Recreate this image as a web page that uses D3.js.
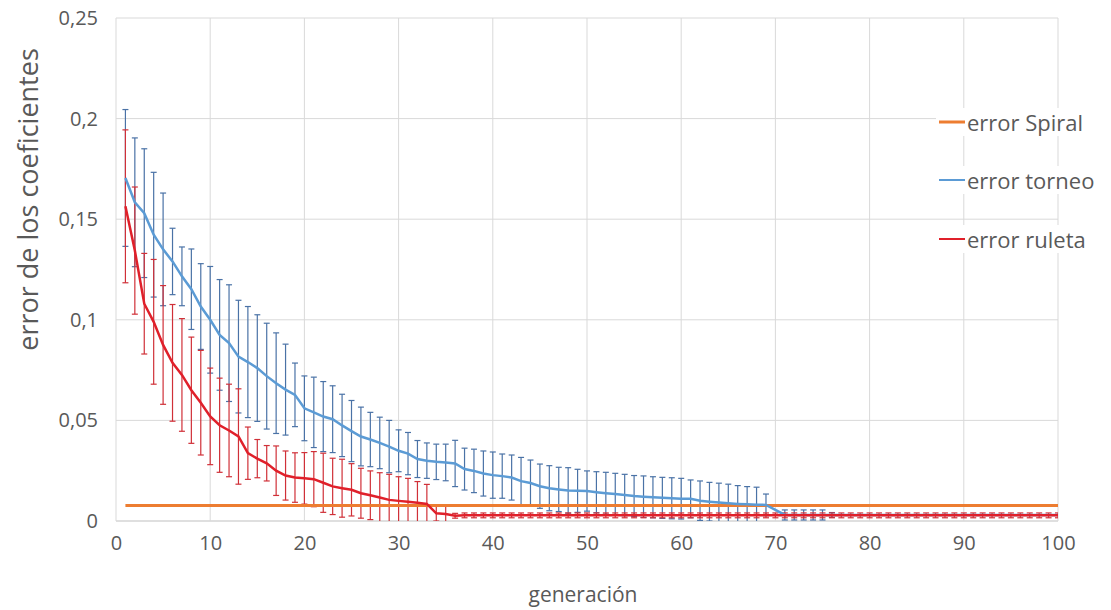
<!DOCTYPE html>
<html>
<head>
<meta charset="utf-8">
<script src="https://cdn.jsdelivr.net/npm/d3@7"></script>
<style>
  body { margin: 0; background: #fff; }
  text { font-family: "Open Sans", sans-serif; fill: #595959; }
</style>
</head>
<body>
<div id="chart"></div>
<script>
const xTicks = [0, 10, 20, 30, 40, 50, 60, 70, 80, 90, 100];
const yTicks = [0, 0.05, 0.1, 0.15, 0.2, 0.25];

// generación 1..100
const torneoMean = [
  0.1705, 0.1584, 0.153, 0.1423, 0.135, 0.129, 0.1216, 0.1152, 0.1066, 0.100,
  0.0925, 0.0884, 0.0817, 0.079, 0.076, 0.072, 0.0685, 0.0653, 0.0627, 0.056,
  0.054, 0.0519, 0.0506, 0.0475, 0.0447, 0.042, 0.0405, 0.0388, 0.037, 0.0349,
  0.0335, 0.0308, 0.030, 0.0294, 0.0291, 0.0286, 0.0258, 0.0249, 0.0236, 0.0228,
  0.0223, 0.0216, 0.0198, 0.0189, 0.0173, 0.0163, 0.0157, 0.0152, 0.015, 0.0149,
  0.0143, 0.0138, 0.0134, 0.0129, 0.0124, 0.0121, 0.0118, 0.0115, 0.0113, 0.0111,
  0.011, 0.0101, 0.0096, 0.0092, 0.0088, 0.0085, 0.0083, 0.0081, 0.008, 0.0055,
  0.003, 0.003, 0.003, 0.003, 0.003, 0.003, 0.003, 0.003, 0.003, 0.003,
  0.003, 0.003, 0.003, 0.003, 0.003, 0.003, 0.003, 0.003, 0.003, 0.003,
  0.003, 0.003, 0.003, 0.003, 0.003, 0.003, 0.003, 0.003, 0.003, 0.003
];
const torneoErr = [
  0.034, 0.032, 0.032, 0.031, 0.028, 0.0165, 0.0146, 0.020, 0.0213, 0.0265,
  0.0275, 0.029, 0.028, 0.0276, 0.0265, 0.0263, 0.025, 0.0226, 0.0158, 0.0161,
  0.0175, 0.0174, 0.0166, 0.0155, 0.0152, 0.0146, 0.0135, 0.0128, 0.013, 0.0104,
  0.0105, 0.0092, 0.0088, 0.0088, 0.0091, 0.0115, 0.0104, 0.0108, 0.0112, 0.0115,
  0.011, 0.0112, 0.0118, 0.0114, 0.011, 0.0112, 0.011, 0.0113, 0.0107, 0.010,
  0.0102, 0.0104, 0.0103, 0.0103, 0.0102, 0.0103, 0.0102, 0.0102, 0.0102, 0.0101,
  0.0094, 0.0098, 0.0096, 0.0096, 0.0095, 0.0091, 0.0088, 0.0087, 0.0054, 0,
  0.0025, 0.0025, 0.0025, 0.0025, 0.0025, 0.0012, 0, 0, 0, 0,
  0, 0, 0, 0, 0, 0, 0, 0, 0, 0,
  0, 0, 0, 0, 0, 0, 0, 0, 0, 0
];
const ruletaMean = [
  0.1564, 0.1344, 0.108, 0.099, 0.0875, 0.0786, 0.0726, 0.065, 0.0588, 0.052,
  0.0476, 0.045, 0.042, 0.0337, 0.031, 0.0287, 0.025, 0.0226, 0.0216, 0.0212,
  0.0208, 0.019, 0.0172, 0.0163, 0.0155, 0.0138, 0.0128, 0.0117, 0.0105, 0.010,
  0.0096, 0.0091, 0.0085, 0.0038, 0.0035, 0.0026, 0.0028, 0.0028, 0.0028, 0.0028,
  0.0028, 0.0028, 0.0028, 0.0028, 0.0028, 0.0028, 0.0028, 0.0028, 0.0028, 0.0028,
  0.0028, 0.0028, 0.0028, 0.0028, 0.0028, 0.0028, 0.0028, 0.0028, 0.0028, 0.0028,
  0.0028, 0.0028, 0.0028, 0.0028, 0.0028, 0.0028, 0.0028, 0.0028, 0.0028, 0.0028,
  0.0028, 0.0028, 0.0028, 0.0028, 0.0028, 0.0028, 0.0028, 0.0028, 0.0028, 0.0028,
  0.0028, 0.0028, 0.0028, 0.0028, 0.0028, 0.0028, 0.0028, 0.0028, 0.0028, 0.0028,
  0.0028, 0.0028, 0.0028, 0.0028, 0.0028, 0.0028, 0.0028, 0.0028, 0.0028, 0.0028
];
const ruletaErr = [
  0.038, 0.0316, 0.025, 0.031, 0.0295, 0.029, 0.028, 0.0264, 0.026, 0.024,
  0.0234, 0.023, 0.0237, 0.013, 0.0095, 0.0088, 0.0123, 0.0122, 0.0123, 0.0128,
  0.0137, 0.0147, 0.014, 0.0144, 0.013, 0.0124, 0.0121, 0.0123, 0.0127, 0.012,
  0.0116, 0.0105, 0.0097, 0.0038, 0.0041, 0.0012, 0.0012, 0.0012, 0.0012, 0.0012,
  0.0012, 0.0012, 0.0012, 0.0012, 0.0012, 0.0012, 0.0012, 0.0012, 0.0012, 0.0012,
  0.0012, 0.0012, 0.0012, 0.0012, 0.0012, 0.0012, 0.0012, 0.0012, 0.0012, 0.0012,
  0.0012, 0.0012, 0.0012, 0.0012, 0.0012, 0.0012, 0.0012, 0.0012, 0.0012, 0.0012,
  0.0012, 0.0012, 0.0012, 0.0012, 0.0012, 0.0012, 0.0012, 0.0012, 0.0012, 0.0012,
  0.0012, 0.0012, 0.0012, 0.0012, 0.0012, 0.0012, 0.0012, 0.0012, 0.0012, 0.0012,
  0.0012, 0.0012, 0.0012, 0.0012, 0.0012, 0.0012, 0.0012, 0.0012, 0.0012, 0.0012
];
const spiralGen = [1, 100];
const spiralValue = [0.0077, 0.0077];

const seriesNames = ['error Spiral', 'error torneo', 'error ruleta'];
const seriesColors = ['#ed7d31', '#5b9bd5', '#e0202a'];

const width = 1111, height = 610;
const margin = {top: 18, right: 53, bottom: 89, left: 116};

const svg = d3.select('#chart')
  .append('svg')
  .attr('width', width)
  .attr('height', height);

const x = d3.scaleLinear().domain([0, 100]).range([margin.left, width - margin.right]);
const y = d3.scaleLinear().domain([0, 0.25]).range([height - margin.bottom, margin.top]);

const fmt = d => d3.format('.2~f')(d).replace('.', ',');

// grid
const grid = svg.append('g');
grid.selectAll('.hg')
  .data(yTicks)
  .join('line')
  .attr('x1', x(0)).attr('x2', x(100))
  .attr('y1', d => y(d)).attr('y2', d => y(d))
  .attr('stroke', d => d === 0 ? '#bfbfbf' : '#d9d9d9')
  .attr('stroke-width', 1);
grid.selectAll('.vg')
  .data(xTicks)
  .join('line')
  .attr('x1', d => x(d)).attr('x2', d => x(d))
  .attr('y1', y(0.25)).attr('y2', y(0))
  .attr('stroke', '#d9d9d9')
  .attr('stroke-width', 1);

// axes labels
const yAxis = svg.append('g')
  .attr('transform', `translate(${margin.left},0)`)
  .call(d3.axisLeft(y).tickValues(yTicks).tickFormat(fmt).tickSize(0).tickPadding(18));
yAxis.select('.domain').remove();
yAxis.selectAll('text')
  .attr('font-size', 20)
  .attr('font-family', 'Open Sans, sans-serif')
  .attr('fill', '#595959');

const xAxis = svg.append('g')
  .attr('transform', `translate(0,${height - margin.bottom})`)
  .call(d3.axisBottom(x).tickValues(xTicks).tickSize(0).tickPadding(15));
xAxis.select('.domain').remove();
xAxis.selectAll('text')
  .attr('font-size', 20)
  .attr('font-family', 'Open Sans, sans-serif')
  .attr('fill', '#595959');

svg.append('text')
  .attr('transform', `translate(27,${(y(0) + y(0.25)) / 2 - 70}) rotate(-90)`)
  .attr('text-anchor', 'middle')
  .attr('dominant-baseline', 'central')
  .attr('font-size', 27)
  .text('error de los coeficientes');

svg.append('text')
  .attr('x', (x(0) + x(100)) / 2 - 4)
  .attr('y', 602)
  .attr('text-anchor', 'middle')
  .attr('font-size', 21)
  .text('generación');

// series
const gens = d3.range(1, 101);
const torneo = gens.map((g, i) => ({g, v: torneoMean[i], e: torneoErr[i]}));
const ruleta = gens.map((g, i) => ({g, v: ruletaMean[i], e: ruletaErr[i]}));
const spiral = spiralGen.map((g, i) => ({g, v: spiralValue[i]}));

const line = d3.line().x(d => x(d.g)).y(d => y(d.v));

const plot = svg.append('g');
plot.append('clipPath').attr('id', 'clip')
  .append('rect')
  .attr('x', x(0)).attr('y', y(0.25))
  .attr('width', x(100) - x(0)).attr('height', y(0) - y(0.25));

function errorBars(data, color) {
  const g = plot.append('g').attr('clip-path', 'url(#clip)')
    .attr('stroke', color).attr('stroke-width', 1.2);
  const bars = data.filter(d => d.e > 0);
  g.selectAll('.v').data(bars).join('line')
    .attr('x1', d => x(d.g)).attr('x2', d => x(d.g))
    .attr('y1', d => y(d.v + d.e)).attr('y2', d => y(d.v - d.e));
  g.selectAll('.t').data(bars).join('line')
    .attr('x1', d => x(d.g) - 3).attr('x2', d => x(d.g) + 3)
    .attr('y1', d => y(d.v + d.e)).attr('y2', d => y(d.v + d.e));
  g.selectAll('.b').data(bars).join('line')
    .attr('x1', d => x(d.g) - 3).attr('x2', d => x(d.g) + 3)
    .attr('y1', d => y(d.v - d.e)).attr('y2', d => y(d.v - d.e));
}

errorBars(torneo, '#4a72a6');
errorBars(ruleta, '#d03038');

plot.append('path').datum(spiral)
  .attr('d', line).attr('fill', 'none')
  .attr('stroke', seriesColors[0]).attr('stroke-width', 3);
plot.append('path').datum(torneo)
  .attr('d', line).attr('fill', 'none')
  .attr('stroke', seriesColors[1]).attr('stroke-width', 2.5);
plot.append('path').datum(ruleta)
  .attr('d', line).attr('fill', 'none')
  .attr('stroke', seriesColors[2]).attr('stroke-width', 2.5);

// legend
const legend = svg.append('g');
const rowY = [122, 180, 239];
const rows = legend.selectAll('g')
  .data(seriesNames)
  .join('g')
  .attr('transform', (d, i) => `translate(936,${rowY[i]})`);
rows.append('rect')
  .attr('x', 0).attr('y', -14).attr('width', 175).attr('height', 28)
  .attr('fill', '#fff');
rows.append('line')
  .attr('x1', 3).attr('x2', 29)
  .attr('stroke', (d, i) => seriesColors[i])
  .attr('stroke-width', (d, i) => i === 0 ? 3 : 2);
rows.append('text')
  .attr('x', 31)
  .attr('dominant-baseline', 'central')
  .attr('font-size', 22)
  .text(d => d);
</script>
</body>
</html>
